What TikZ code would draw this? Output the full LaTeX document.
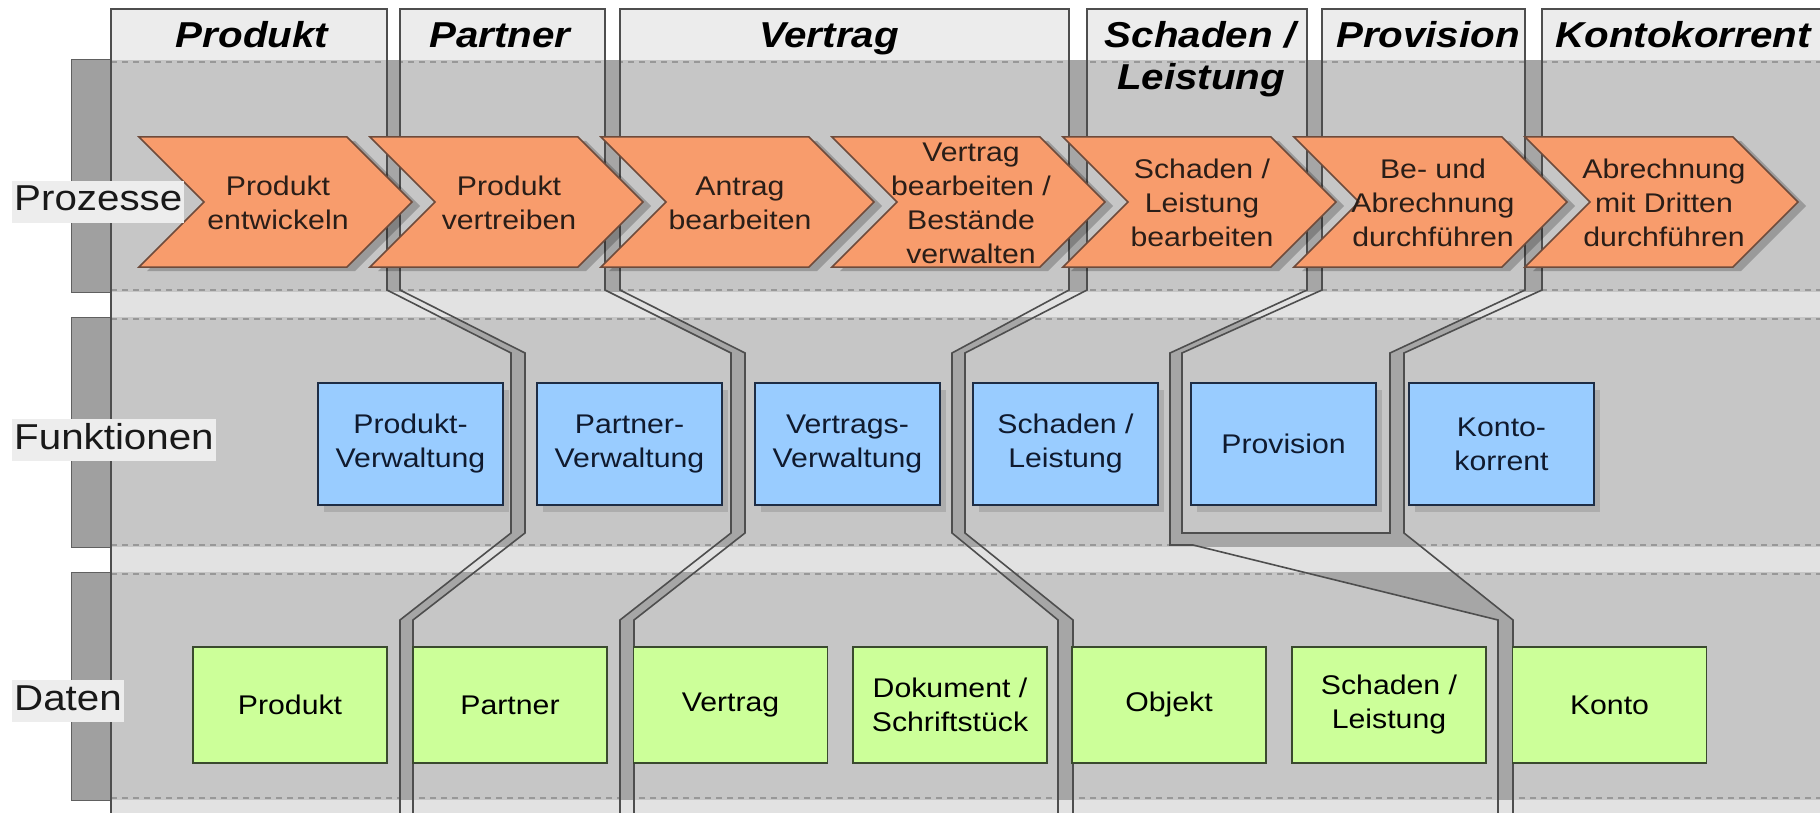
\documentclass[tikz,border=0pt]{standalone}
\usepackage{fontspec}
\setmainfont{Liberation Sans}[FakeStretch=1.12]
\usetikzlibrary{shadows}
\definecolor{bandc}{HTML}{C6C6C6}
\definecolor{stripc}{HTML}{E2E2E2}
\definecolor{headc}{HTML}{ECECEC}
\definecolor{chanc}{HTML}{A6A6A6}
\definecolor{barc}{HTML}{A0A0A0}
\definecolor{bardraw}{HTML}{606060}
\definecolor{borderc}{HTML}{4E4E4E}
\definecolor{dashc}{HTML}{989898}
\definecolor{orangec}{HTML}{F89C6C}
\definecolor{orangeline}{HTML}{6E4B3B}
\definecolor{chevtextc}{HTML}{2A1E18}
\definecolor{bluec}{HTML}{99CCFF}
\definecolor{blueline}{HTML}{1E2D45}
\definecolor{funtextc}{HTML}{101A2E}
\definecolor{greenc}{HTML}{CCFF99}
\definecolor{greenline}{HTML}{3A4A2E}
\definecolor{labelc}{HTML}{EDEDED}
\newcommand{\pillar}[1]{%
  \begin{scope}
    \clip #1;
    \fill[headc] (100,0) rectangle (1830,60);
    \fill[bandc] (100,60) rectangle (1830,292);
    \fill[stripc] (100,292) rectangle (1830,317);
    \fill[bandc] (100,317) rectangle (1830,547);
    \fill[stripc] (100,547) rectangle (1830,572);
    \fill[bandc] (100,572) rectangle (1830,800);
    \fill[stripc] (100,800) rectangle (1830,820);
    \foreach \yy in {62,290,319,545,574,798}
      \draw[dashc, line width=1.2pt, dash pattern=on 6pt off 5pt] (100,\yy) -- (1830,\yy);
  \end{scope}
  \draw[pillarline] #1;}
\newcommand{\chev}[3]{%
  \fill[chevshade] (#1+8,141) -- ++(208,0) -- ++(65,65) -- ++(-65,65) -- ++(-208,0) -- ++(65,-65) -- cycle;
  \draw[chevbody] (#1,137) -- ++(208,0) -- ++(65,65) -- ++(-65,65) -- ++(-208,0) -- ++(65,-65) -- cycle;
  \node[chevtext] (#2) at (#1+139,203) {#3};}
\begin{document}
\begin{tikzpicture}[x=1pt,y=-1pt,
  pillarline/.style={draw=borderc, line width=1.6pt, line join=miter},
  chevbody/.style={fill=orangec, draw=orangeline, line width=1.5pt, line join=miter},
  chevshade/.style={fill=black, opacity=0.22},
  chevtext/.style={font=\fontsize{27}{34}\selectfont, align=center, text=chevtextc, inner sep=0pt},
  funcbox/.style={rectangle, fill=bluec, draw=blueline, line width=1.5pt, minimum width=185, minimum height=122, font=\fontsize{27}{34}\selectfont, align=center, text=funtextc, drop shadow={shadow xshift=6pt, shadow yshift=-7pt, opacity=0.35}},
  databox/.style={rectangle, fill=greenc, draw=greenline, line width=1.3pt, minimum width=194, minimum height=116, font=\fontsize{27}{34}\selectfont, align=center, text=black},
  rowlabel/.style={fill=labelc, anchor=west, font=\fontsize{36}{40}\selectfont, inner xsep=2pt, inner ysep=4pt, text height=26pt, text depth=8pt, text=black!90},
  headlabel/.style={font=\fontsize{36}{40}\selectfont\bfseries\itshape, anchor=base, text=black, inner sep=0pt},
  rowbar/.style={draw=bardraw, fill=barc, line width=1pt}
]
\useasboundingbox (0,0) rectangle (1820,813);
\fill[white] (0,0) rectangle (1820,813);
% left row bars
\draw[rowbar] (71,60) rectangle (111,292);
\draw[rowbar] (71,317) rectangle (111,547);
\draw[rowbar] (71,572) rectangle (111,800);
% channel background
\fill[chanc] (111,60) rectangle (1830,292);
\fill[chanc] (111,317) rectangle (1830,547);
\fill[chanc] (111,572) rectangle (1830,800);
\fill[stripc] (111,292) rectangle (1830,317);
\fill[stripc] (111,547) rectangle (1830,572);
\fill[stripc] (111,800) rectangle (1830,820);
% pillars
\pillar{(111,9) -- (387,9) -- (387,290) -- (511,353) -- (511,533) -- (400,620) -- (400,820) -- (111,820) -- cycle}
\pillar{(400,9) -- (605,9) -- (605,290) -- (731,353) -- (731,533) -- (620,620) -- (620,820) -- (413,820) -- (413,620) -- (525,533) -- (525,353) -- (400,290) -- cycle}
\pillar{(620,9) -- (1069,9) -- (1069,290) -- (952,353) -- (952,533) -- (1058,620) -- (1058,820) -- (634,820) -- (634,620) -- (745,533) -- (745,353) -- (620,290) -- cycle}
\pillar{(1087,9) -- (1307,9) -- (1307,290) -- (1170,353) -- (1170,545) -- (1193,545) -- (1498,620) -- (1498,820) -- (1073,820) -- (1073,620) -- (965,533) -- (965,353) -- (1087,290) -- cycle}
\pillar{(1322,9) -- (1525,9) -- (1525,290) -- (1390,353) -- (1390,533) -- (1182,533) -- (1182,353) -- (1322,290) -- cycle}
\pillar{(1542,9) -- (1840,9) -- (1840,820) -- (1513,820) -- (1513,620) -- (1404,533) -- (1404,353) -- (1542,290) -- cycle}
% process chevrons
\chev{139}{p1}{Produkt\\entwickeln}
\chev{370}{p2}{Produkt\\vertreiben}
\chev{601}{p3}{Antrag\\bearbeiten}
\chev{832}{p4}{Vertrag\\bearbeiten /\\Bestände\\verwalten}
\chev{1063}{p5}{Schaden /\\Leistung\\bearbeiten}
\chev{1294}{p6}{Be- und\\Abrechnung\\durchführen}
\chev{1525}{p7}{Abrechnung\\mit Dritten\\durchführen}
% functions
\node[funcbox] (f1) at (410.5,444) {Produkt-\\Verwaltung};
\node[funcbox] (f2) at (629.5,444) {Partner-\\Verwaltung};
\node[funcbox] (f3) at (847.5,444) {Vertrags-\\Verwaltung};
\node[funcbox] (f4) at (1065.5,444) {Schaden /\\Leistung};
\node[funcbox] (f5) at (1283.5,444) {Provision};
\node[funcbox] (f6) at (1501.5,444) {Konto-\\korrent};
% data
\node[databox] (d1) at (290,705) {Produkt};
\node[databox] (d2) at (510,705) {Partner};
\node[databox] (d3) at (730.5,705) {Vertrag};
\node[databox] (d4) at (950,705) {Dokument /\\Schriftstück};
\node[databox] (d5) at (1169,705) {Objekt};
\node[databox] (d6) at (1389,705) {Schaden /\\Leistung};
\node[databox] (d7) at (1609.5,705) {Konto};
% row labels
\node[rowlabel] (rl1) at (12,202) {Prozesse};
\node[rowlabel] (rl2) at (12,440) {Funktionen};
\node[rowlabel] (rl3) at (12,701) {Daten};
% column headers
\node[headlabel] (h1) at (252,48) {Produkt};
\node[headlabel] (h2) at (500,48) {Partner};
\node[headlabel] (h3) at (829,48) {Vertrag};
\node[headlabel] (h4a) at (1200,48) {Schaden /};
\node[headlabel] (h4b) at (1201,90) {Leistung};
\node[headlabel] (h5) at (1428,48) {Provision};
\node[headlabel] (h6) at (1683,48) {Kontokorrent};
\end{tikzpicture}
\end{document}
